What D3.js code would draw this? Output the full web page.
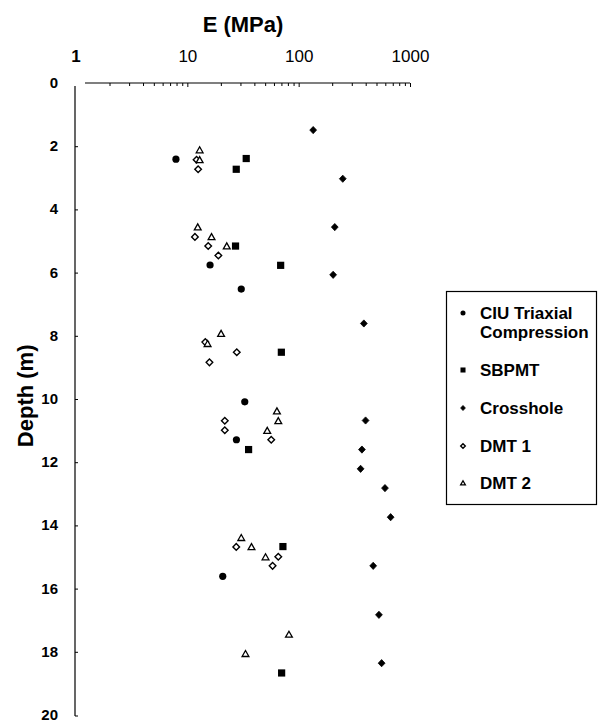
<!DOCTYPE html>
<html><head><meta charset="utf-8">
<script src="https://cdn.jsdelivr.net/npm/d3@7"></script>
<style>body{margin:0;background:#fff}svg{display:block}text{font-family:"Liberation Sans",Arial,Helvetica,sans-serif;fill:#000}</style>
</head><body><svg id="c" width="600" height="723"></svg>
<script>
// ---- data (E in MPa, depth in m) ----
const ciuDepth = [2.41, 5.76, 6.52, 10.09, 11.29, 15.61];
const ciuE     = [7.9, 16.0, 30.5, 32.8, 27.6, 20.8];
const sbpmtDepth = [2.39, 2.73, 5.16, 5.77, 8.52, 11.6, 14.67, 18.67];
const sbpmtE     = [33.8, 27.5, 27.1, 68.9, 69.9, 35.5, 72.2, 70.3];
const crossDepth = [1.49, 3.03, 4.56, 6.07, 7.61, 10.68, 11.6, 12.21, 12.82, 13.74, 15.28, 16.83, 18.36];
const crossE     = [135, 249, 211, 204, 385, 399, 370, 360, 596, 670, 467, 526, 556];
const dmt1Depth = [2.43, 2.73, 4.87, 5.16, 5.46, 8.2, 8.52, 8.84, 10.69, 10.99, 11.29, 14.68, 14.99, 15.28];
const dmt1E     = [12.1, 12.5, 11.7, 15.4, 19.0, 14.5, 27.8, 15.8, 21.7, 21.7, 56.7, 27.5, 65.6, 58.3];
const dmt2Depth = [2.12, 2.43, 4.56, 4.87, 5.16, 7.93, 8.25, 10.38, 10.69, 11.0, 14.39, 14.68, 15.0, 17.45, 18.06];
const dmt2E     = [12.9, 12.9, 12.4, 16.5, 22.6, 20.1, 15.2, 63.8, 65.6, 52.2, 30.5, 37.7, 50.4, 81.8, 33.3];
const xTickLabels = [1, 10, 100, 1000];
const yTickLabels = [0, 2, 4, 6, 8, 10, 12, 14, 16, 18, 20];
const seriesNames = ["CIU Triaxial\nCompression", "SBPMT", "Crosshole", "DMT 1", "DMT 2"];

const svg = d3.select("#c");
const x = d3.scaleLog().domain([1, 1000]).range([76, 410]);
const y = d3.scaleLinear().domain([0, 20]).range([83, 715]);

// x axis (top)
const minor = [];
for (let e = 0; e < 3; e++) for (let m = 1; m < 10; m++) minor.push(m * Math.pow(10, e));
minor.push(1000);
const gx = svg.append("g").attr("transform", `translate(0,${y(0)})`)
  .call(d3.axisTop(x).tickValues(minor.filter(v => v > 1)).tickSize(-3).tickPadding(21)
    .tickFormat(d => xTickLabels.includes(d) ? d3.format("d")(d) : ""));
gx.select(".domain").remove();
gx.selectAll(".tick line").attr("stroke", "#000").attr("stroke-width", 1)
  .attr("y2", d => xTickLabels.includes(d) ? 4 : 3);
gx.selectAll(".tick text").attr("font-size", 17).attr("font-weight", "normal");
// label "1" at the origin
svg.append("text").attr("x", x(1)).attr("y", y(0) - 21).attr("text-anchor", "middle")
  .attr("font-size", 17).attr("font-weight", "bold").text(d3.format("d")(xTickLabels[0]));
svg.append("line").attr("x1", 85).attr("x2", x(1000)).attr("y1", y(0)).attr("y2", y(0))
  .attr("stroke", "#000").attr("stroke-width", 1.2);

// y axis (left)
const gy = svg.append("g").attr("transform", `translate(${x(1) - 1},0)`)
  .call(d3.axisLeft(y).tickValues(yTickLabels).tickSize(-3).tickPadding(17).tickFormat(d3.format("d")));
gy.select(".domain").remove();
gy.selectAll(".tick line").attr("stroke", "#000").attr("stroke-width", 1)
  .attr("opacity", d => (d === 0 || d === 20) ? 0 : 1);
gy.selectAll(".tick text").attr("font-size", 15).attr("font-weight", "bold").attr("dy", "0.3em");
svg.append("line").attr("x1", x(1) - 1).attr("x2", x(1) - 1).attr("y1", y(0) + 3).attr("y2", y(20) + 1)
  .attr("stroke", "#000").attr("stroke-width", 1.2);
svg.append("line").attr("x1", x(1) - 1).attr("x2", x(1) + 2).attr("y1", y(20) + 1).attr("y2", y(20) + 1)
  .attr("stroke", "#000").attr("stroke-width", 1);

// axis titles
svg.append("text").attr("x", 243).attr("y", 32).attr("text-anchor", "middle")
  .attr("font-size", 22).attr("font-weight", "bold").text("E (MPa)");
svg.append("text").attr("transform", `translate(33,${y(9.9)}) rotate(-90)`).attr("text-anchor", "middle")
  .attr("font-size", 22).attr("font-weight", "bold").text("Depth (m)");

// marker shapes
const shapes = {
  circle: (g, s) => g.append("circle").attr("r", 3.6 * s).attr("fill", "#000"),
  square: (g, s) => g.append("rect").attr("x", -3.6 * s).attr("y", -3.6 * s).attr("width", 7.2 * s).attr("height", 7.2 * s).attr("fill", "#000"),
  cross: (g, s) => g.append("path").attr("d", `M0,${-3.6*s}L${3.4*s},0L0,${3.6*s}L${-3.4*s},0Z`).attr("fill", "#000").attr("stroke", "#000").attr("stroke-width", 0.8).attr("stroke-linejoin", "round"),
  dmt1: (g, s) => g.append("path").attr("d", `M0,${-3.3*s}L${3.3*s},0L0,${3.3*s}L${-3.3*s},0Z`).attr("fill", "#fff").attr("stroke", "#000").attr("stroke-width", 1.4),
  dmt2: (g, s) => g.append("path").attr("d", `M0,${-3.2*s}L${3.4*s},${2.8*s}L${-3.4*s},${2.8*s}Z`).attr("fill", "#fff").attr("stroke", "#000").attr("stroke-width", 1.3).attr("stroke-linejoin", "miter")
};
const series = [
  { key: "circle", d: ciuDepth, e: ciuE },
  { key: "square", d: sbpmtDepth, e: sbpmtE },
  { key: "cross", d: crossDepth, e: crossE },
  { key: "dmt1", d: dmt1Depth, e: dmt1E },
  { key: "dmt2", d: dmt2Depth, e: dmt2E }
];
series.forEach(s => {
  s.d.forEach((dep, i) => {
    const g = svg.append("g").attr("transform", `translate(${x(s.e[i])},${y(dep)})`);
    shapes[s.key](g, 1);
  });
});

// legend
const lg = svg.append("g");
lg.append("rect").attr("x", 446.5).attr("y", 291.5).attr("width", 150).attr("height", 213)
  .attr("fill", "none").attr("stroke", "#000").attr("stroke-width", 1.2);
const legY = [319, 376, 414, 452, 489];
series.forEach((s, i) => {
  const g = lg.append("g").attr("transform", `translate(463,${legY[i] - 6})`);
  shapes[s.key](g, 0.7);
  const lines = seriesNames[i].split("\n");
  lines.forEach((t, j) => {
    lg.append("text").attr("x", 480).attr("y", legY[i] + j * 19).attr("font-size", 17)
      .attr("font-weight", "bold").text(t);
  });
});
</script></body></html>
